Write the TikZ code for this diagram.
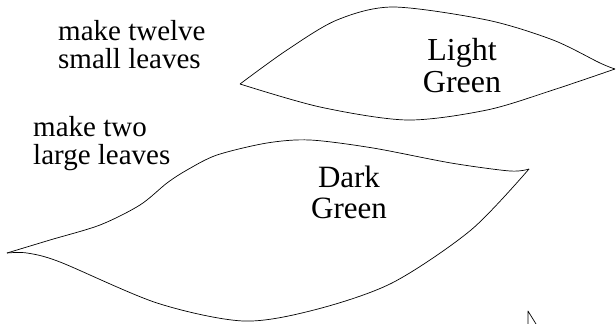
\documentclass[tikz,border=0pt]{standalone}
\usepackage{fontspec}
\setmainfont{Liberation Serif}

\tikzset{
  leaf/.style = {line width = 0.7pt, line join = round},
  note/.style = {inner sep = 0pt, align = left, anchor = north west,
    font = \fontsize{29}{28}\selectfont},
  shade/.style = {inner sep = 0pt, align = center, anchor = north}
}

\begin{document}
\begin{tikzpicture}[x = 1pt, y = -1pt]
  \useasboundingbox (0, 0) rectangle (616, 324);
  % instructions
  \node[note] (twelve) at (58, 20) {make twelve\\small leaves};
  \node[note] (two) at (33, 116) {make two\\large leaves};
  % small leaf
  \draw[leaf] plot[smooth] coordinates {(240, 84) (287, 50) (337, 20)
    (393, 7) (487, 20) (553, 40) (600, 63) (615, 69)};
  \draw[leaf] plot[smooth] coordinates {(240, 84) (320, 107) (407, 120)
    (487, 110) (553, 90) (615, 69)};
  \node[shade, font = \fontsize{32}{32}\selectfont] (light)
  at (462, 38) {Light\\Green};
  % large leaf
  \draw[leaf] plot[smooth] coordinates {(7, 253) (50, 240) (100, 225)
    (140, 205) (167, 183) (187, 170) (217, 155) (267, 143) (310, 140)
    (373, 148) (451, 163) (510, 171) (529, 169)};
  \draw[leaf] plot[smooth] coordinates {(7, 253) (27, 253) (60, 262)
    (157, 303) (243, 321) (314, 310) (392, 283) (471, 230) (529, 169)};
  \node[shade, font = \fontsize{31}{31}\selectfont] (dark)
  at (349, 166) {Dark\\Green};
  % tip of the next leaf
  \draw[leaf] (528, 324) -- (528, 311) -- (536, 324);
\end{tikzpicture}
\end{document}
